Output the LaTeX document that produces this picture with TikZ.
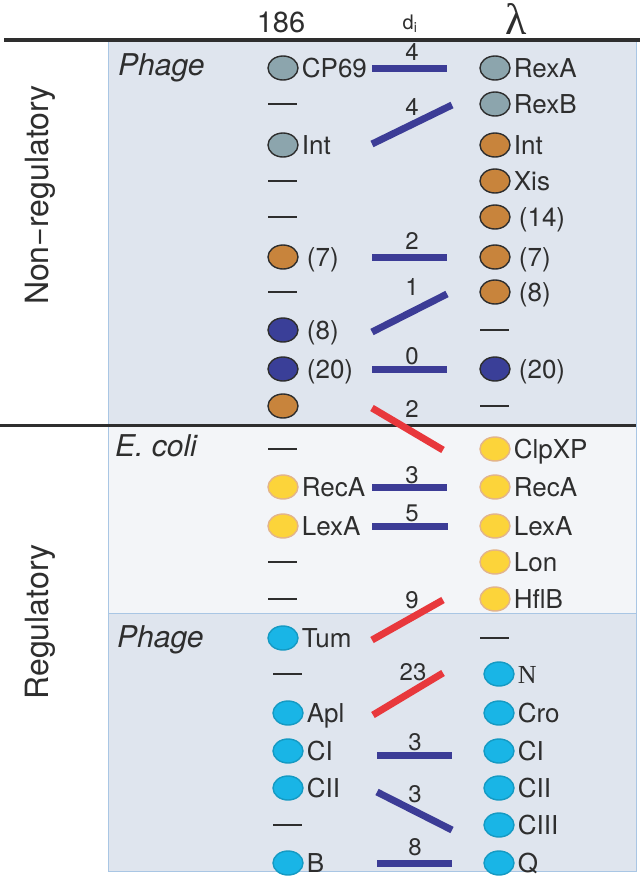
\documentclass[tikz,border=0pt]{standalone}
\usepackage{fontspec}
\setmainfont{TeX Gyre Heros}
\newfontfamily\nserif{Liberation Serif}
\usetikzlibrary{shapes.geometric}
\definecolor{txt}{HTML}{2E2E2E}
\definecolor{panA}{HTML}{DFE5EE}
\definecolor{panB}{HTML}{F3F5F8}
\definecolor{pborder}{HTML}{A9C6E4}
\definecolor{cgray}{HTML}{8CA5AD}
\definecolor{cbrown}{HTML}{C8843C}
\definecolor{cnavy}{HTML}{3A3F98}
\definecolor{cyel}{HTML}{FCD43A}
\definecolor{cyelo}{HTML}{E3B48A}
\definecolor{ccyan}{HTML}{19B5E6}
\definecolor{lblue}{HTML}{3C3C96}
\definecolor{lred}{HTML}{E8383C}
\newcommand{\gn}[5]{\node[dot,#4] (#1) at (#2,#3) {}; \node[lab,anchor=west] (#1t) at ([xshift=3pt]#1.east) {#5};}
\newcommand{\dsh}[3]{\node[dashbar] (#1) at (#2,#3) {};}
\begin{document}
\begin{tikzpicture}[x=1pt,y=-1pt,
  dot/.style={ellipse,minimum width=30pt,minimum height=24pt,inner sep=0pt,line width=1.4pt},
  gy/.style={fill=cgray,draw=txt},
  br/.style={fill=cbrown,draw=txt},
  nv/.style={fill=cnavy,draw=txt},
  yl/.style={fill=cyel,draw=cyelo},
  cy/.style={fill=ccyan,draw=ccyan!85!black},
  lab/.style={inner sep=0pt,text=txt,font=\fontsize{26}{26}\selectfont,text height=18.7pt,text depth=0pt},
  num/.style={inner sep=0pt,text=txt,font=\fontsize{24}{24}\selectfont},
  dashbar/.style={rectangle,minimum width=29pt,minimum height=2pt,inner sep=0pt,fill=txt},
  bl/.style={line width=7pt,draw=lblue},
  rd/.style={line width=7pt,draw=lred},
  side/.style={inner sep=0pt,text=txt,font=\fontsize{32}{32}\selectfont,rotate=90},
  cat/.style={inner sep=0pt,text=txt,anchor=west,font=\fontsize{30}{30}\selectfont\itshape},
  hdr/.style={inner sep=0pt,text=txt}
]
\useasboundingbox (0,0) rectangle (640,878);
\fill[white] (0,0) rectangle (640,878);
% panels
\fill[panA] (108,42) rectangle (636,425);
\fill[panB] (108,425) rectangle (636,613);
\fill[panA] (108,613) rectangle (636,871);
\draw[pborder,line width=1pt] (108,42) -- (108,871) -- (636,871) -- (636,42);
\draw[pborder,line width=1pt] (108,613) -- (636,613);
% rules
\draw[txt,line width=3.5pt] (4,40) -- (640,40);
\draw[txt,line width=3pt] (0,425) -- (636,425);
% headers
\node[hdr,font=\fontsize{29}{29}\selectfont] (h186) at (281,22) {186};
\node[hdr,font=\fontsize{20}{20}\selectfont] (hdi) at (410,24) {d\textsubscript{i}};
\node[hdr,font=\fontsize{44}{44}\nserif] (hlam) at (516,19) {λ};
% side labels
\node[side] (snr) at (40,195) {Non−regulatory};
\node[side] (sr) at (40,622) {Regulatory};
% category labels
\node[cat] (c1) at (118,68) {Phage};
\node[cat] (c2) at (115,446) {E. coli};
\node[cat] (c3) at (117,640) {Phage};
% ---------- left column (186)
\gn{L1}{283}{68}{gy}{CP69}
\dsh{L2}{282}{104}
\gn{L3}{283}{145}{gy}{Int}
\dsh{L4}{282}{181}
\dsh{L5}{282}{217}
\gn{L6}{283}{257}{br}{\hspace{5pt}(7)}
\dsh{L7}{282}{292}
\gn{L8}{283}{330}{nv}{\hspace{5pt}(8)}
\gn{L9}{283}{369}{nv}{\hspace{5pt}(20)}
\node[dot,br] (L10) at (283,406) {};
\dsh{L11}{282}{449}
\gn{L12}{283}{487}{yl}{RecA}
\gn{L13}{283}{526}{yl}{LexA}
\dsh{L14}{282}{562}
\dsh{L15}{282}{599}
\gn{L16}{283}{638}{cy}{Tum}
\dsh{L17}{287}{674}
\gn{L18}{288}{713}{cy}{Apl}
\gn{L19}{288}{751}{cy}{CI}
\gn{L20}{288}{788}{cy}{CII}
\dsh{L21}{287}{825}
\gn{L22}{288}{863}{cy}{B}
% ---------- right column (lambda)
\gn{R1}{495}{68}{gy}{RexA}
\gn{R2}{495}{104}{gy}{RexB}
\gn{R3}{495}{145}{br}{Int}
\gn{R4}{495}{181}{br}{Xis}
\gn{R5}{495}{217}{br}{\hspace{5pt}(14)}
\gn{R6}{495}{257}{br}{\hspace{5pt}(7)}
\gn{R7}{495}{292}{br}{\hspace{5pt}(8)}
\dsh{R8}{494}{330}
\gn{R9}{495}{369}{nv}{\hspace{5pt}(20)}
\dsh{R10}{494}{406}
\gn{R11}{495}{449}{yl}{ClpXP}
\gn{R12}{495}{487}{yl}{RecA}
\gn{R13}{495}{526}{yl}{LexA}
\gn{R14}{495}{562}{yl}{Lon}
\gn{R15}{495}{599}{yl}{HflB}
\dsh{R16}{494}{638}
\gn{R17}{499}{674}{cy}{{\nserif N}}
\gn{R18}{499}{713}{cy}{Cro}
\gn{R19}{499}{751}{cy}{CI}
\gn{R20}{499}{788}{cy}{CII}
\gn{R21}{499}{825}{cy}{CIII}
\gn{R22}{499}{863}{cy}{Q}
% ---------- connector end points
\coordinate (a1) at (372,68);  \coordinate (b1) at (447,68);
\coordinate (a2) at (372,144); \coordinate (b2) at (452,105);
\coordinate (a3) at (372,257); \coordinate (b3) at (447,257);
\coordinate (a4) at (372,332); \coordinate (b4) at (447,294);
\coordinate (a5) at (372,369); \coordinate (b5) at (447,369);
\coordinate (a6) at (372,408); \coordinate (b6) at (443,450);
\coordinate (a7) at (372,487); \coordinate (b7) at (447,487);
\coordinate (a8) at (372,526); \coordinate (b8) at (448,526);
\coordinate (a9) at (372,640); \coordinate (b9) at (443,600);
\coordinate (a10) at (373,715); \coordinate (b10) at (443,673);
\coordinate (a11) at (377,755); \coordinate (b11) at (452,755);
\coordinate (a12) at (377,792); \coordinate (b12) at (452,830);
\coordinate (a13) at (377,863); \coordinate (b13) at (452,863);
\draw[bl] (a1) -- (b1);
\draw[bl] (a2) -- (b2);
\draw[bl] (a3) -- (b3);
\draw[bl] (a4) -- (b4);
\draw[bl] (a5) -- (b5);
\draw[rd] (a6) -- (b6);
\draw[bl] (a7) -- (b7);
\draw[bl] (a8) -- (b8);
\draw[rd] (a9) -- (b9);
\draw[rd] (a10) -- (b10);
\draw[bl] (a11) -- (b11);
\draw[bl] (a12) -- (b12);
\draw[bl] (a13) -- (b13);
% d_i values
\node[num] (n1) at (412,52) {4};
\node[num] (n2) at (412,107) {4};
\node[num] (n3) at (412,241) {2};
\node[num] (n4) at (412,287) {1};
\node[num] (n5) at (412,356) {0};
\node[num] (n6) at (412,409) {2};
\node[num] (n7) at (412,475) {3};
\node[num] (n8) at (412,513) {5};
\node[num] (n9) at (412,600) {9};
\node[num] (n10) at (413,672) {23};
\node[num] (n11) at (415,742) {3};
\node[num] (n12) at (415,794) {3};
\node[num] (n13) at (415,847) {8};
\end{tikzpicture}
\end{document}
